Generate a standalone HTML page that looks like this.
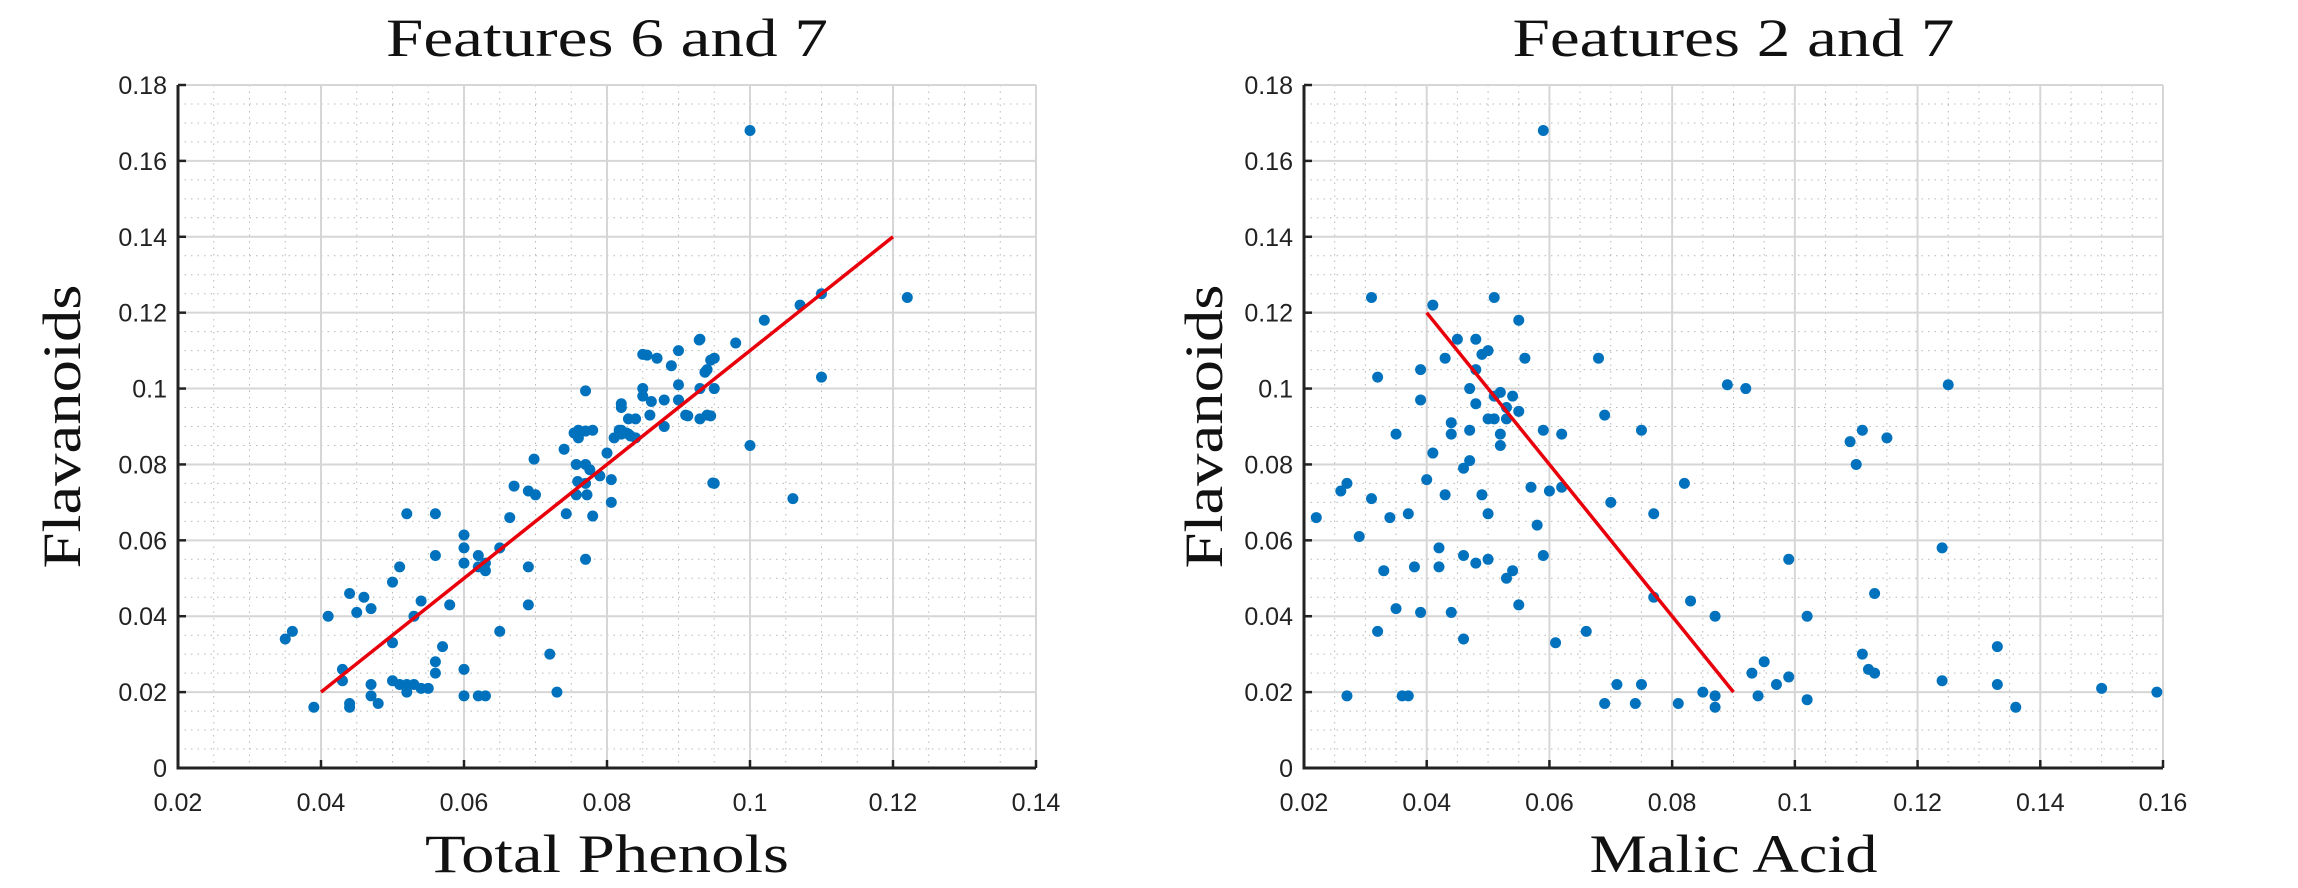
<!DOCTYPE html>
<html><head><meta charset="utf-8"><style>
html,body{margin:0;padding:0;background:#fff;}
svg{display:block;}
</style></head><body>
<svg id="fig" width="2298" height="888" viewBox="0 0 2298 888" xmlns="http://www.w3.org/2000/svg">
<rect width="2298" height="888" fill="#fff"/>
<g id="p1"></g>
<g id="p2"></g>
</svg>
<script>
const yTicks=[0,0.02,0.04,0.06,0.08,0.1,0.12,0.14,0.16,0.18];
const yTickLabels=["0","0.02","0.04","0.06","0.08","0.1","0.12","0.14","0.16","0.18"];
const x1Ticks=[0.02,0.04,0.06,0.08,0.1,0.12,0.14];
const x1TickLabels=["0.02","0.04","0.06","0.08","0.1","0.12","0.14"];
const x2Ticks=[0.02,0.04,0.06,0.08,0.1,0.12,0.14,0.16];
const x2TickLabels=["0.02","0.04","0.06","0.08","0.1","0.12","0.14","0.16"];
const phenolsX=[0.1,0.122,0.110,0.107,0.102,0.110,0.1,0.106,0.095,0.098,0.093,0.095,0.094,0.090,0.089,0.085,0.087,0.093,0.095,0.090,0.090,0.088,0.085,0.085,0.093,0.094,0.088,0.091,0.086,0.082,0.082,0.083,0.084,0.082,0.083,0.082,0.084,0.081,0.077,0.078,0.076,0.077,0.076,0.074,0.0757,0.077,0.0776,0.079,0.080,0.0806,0.0806,0.0759,0.077,0.0757,0.0772,0.0743,0.078,0.0698,0.067,0.069,0.070,0.0664,0.052,0.056,0.060,0.0856,0.0862,0.0929,0.0945,0.0937,0.0913,0.0945,0.0948,0.0754,0.0817,0.0827,0.0833,
0.035,0.036,0.039,0.041,0.043,0.043,0.044,0.044,0.044,0.045,0.046,0.047,0.047,0.047,0.048,0.050,0.050,0.050,0.051,0.051,0.052,0.052,0.053,0.054,0.054,0.053,0.055,0.056,0.056,0.056,0.057,0.058,0.060,0.060,0.060,0.060,0.062,0.062,0.062,0.063,0.063,0.063,0.065,0.065,0.069,0.069,0.072,0.073,0.077];
const flav1Y=[0.168,0.124,0.125,0.122,0.118,0.103,0.085,0.071,0.075,0.112,0.113,0.108,0.105,0.110,0.106,0.109,0.108,0.100,0.100,0.101,0.097,0.097,0.100,0.098,0.092,0.093,0.090,0.093,0.093,0.096,0.095,0.092,0.092,0.089,0.088,0.088,0.087,0.087,0.0994,0.089,0.089,0.0888,0.087,0.084,0.080,0.080,0.0786,0.077,0.083,0.070,0.076,0.0755,0.075,0.072,0.072,0.067,0.0664,0.0814,0.0743,0.073,0.072,0.066,0.067,0.067,0.0614,0.1088,0.0966,0.1128,0.1075,0.1043,0.0928,0.0928,0.0751,0.0883,0.089,0.0883,0.0875,
0.034,0.036,0.016,0.040,0.026,0.023,0.016,0.017,0.046,0.041,0.045,0.042,0.022,0.019,0.017,0.033,0.023,0.049,0.053,0.022,0.020,0.022,0.022,0.021,0.044,0.040,0.021,0.056,0.025,0.028,0.032,0.043,0.019,0.026,0.058,0.054,0.053,0.056,0.019,0.019,0.054,0.052,0.036,0.058,0.053,0.043,0.030,0.020,0.055];
const malicX=[0.059,0.031,0.041,0.051,0.055,0.022,0.026,0.027,0.027,0.029,0.031,0.032,0.032,0.033,0.034,0.035,0.035,0.036,0.037,0.037,0.038,0.039,0.039,0.039,0.040,0.041,0.042,0.042,0.043,0.043,0.044,0.044,0.044,0.045,0.046,0.046,0.046,0.047,0.047,0.047,0.048,0.048,0.048,0.048,0.049,0.049,0.050,0.050,0.050,0.050,0.051,0.051,0.052,0.052,0.052,0.053,0.053,0.053,0.054,0.054,0.055,0.055,0.056,0.057,0.058,0.059,0.059,0.060,0.061,0.062,0.062,0.066,0.068,0.069,0.069,0.070,0.071,0.074,0.075,0.075,0.077,0.077,0.081,0.082,0.083,0.085,0.087,0.087,0.087,0.089,0.092,0.093,0.094,0.095,0.097,0.099,0.099,0.102,0.102,0.109,0.110,0.111,0.111,0.112,0.113,0.113,0.115,0.124,0.124,0.125,0.133,0.133,0.136,0.150,0.159];
const flav2Y=[0.168,0.124,0.122,0.124,0.118,0.066,0.073,0.075,0.019,0.061,0.071,0.103,0.036,0.052,0.066,0.042,0.088,0.019,0.019,0.067,0.053,0.097,0.105,0.041,0.076,0.083,0.058,0.053,0.108,0.072,0.041,0.088,0.091,0.113,0.079,0.034,0.056,0.081,0.089,0.100,0.096,0.054,0.105,0.113,0.109,0.072,0.110,0.092,0.067,0.055,0.098,0.092,0.099,0.088,0.085,0.095,0.050,0.092,0.052,0.098,0.094,0.043,0.108,0.074,0.064,0.056,0.089,0.073,0.033,0.074,0.088,0.036,0.108,0.093,0.017,0.070,0.022,0.017,0.022,0.089,0.045,0.067,0.017,0.075,0.044,0.020,0.040,0.019,0.016,0.101,0.100,0.025,0.019,0.028,0.022,0.055,0.024,0.018,0.040,0.086,0.080,0.030,0.089,0.026,0.025,0.046,0.087,0.023,0.058,0.101,0.032,0.022,0.016,0.021,0.020];
const fit1X=[0.04,0.12], fit1Y=[0.02,0.14];
const fit2X=[0.04,0.09], fit2Y=[0.12,0.02];

const NS="http://www.w3.org/2000/svg";
function mk(parent,tag,attrs){const e=document.createElementNS(NS,tag);for(const k in attrs)e.setAttribute(k,attrs[k]);parent.appendChild(e);return e;}

function drawPlot(g,L,R,xMin,xMax,xT,xTL,xs,ys,fx,fy,title,titleW,xlab,xlabW,ylabX){
  const T=85,B=768,yMax=0.18;
  const sx=v=>L+(v-xMin)/(xMax-xMin)*(R-L);
  const sy=v=>B-v/yMax*(B-T);
  // minor grid
  for(let v=0;v<=yMax+1e-9;v+=0.005){const y=sy(v);
    const l=mk(g,'line',{x1:L,x2:R,y1:y,y2:y,stroke:'#b8b8b8','stroke-width':1,'stroke-dasharray':'1.5,5'});
    
    }
  for(let v=xMin;v<=xMax+1e-9;v+=0.005){const x=sx(v);
    const l=mk(g,'line',{x1:x,x2:x,y1:T,y2:B,stroke:'#b8b8b8','stroke-width':1,'stroke-dasharray':'1.5,5'});
    
    }
  // major grid
  yTicks.forEach((v,i)=>{const y=sy(v);
    const l=mk(g,'line',{x1:L,x2:R,y1:y,y2:y,stroke:'#d6d6d6','stroke-width':2});
    
    
    const tk=mk(g,'line',{x1:L,x2:L+8,y1:y,y2:y,stroke:'#222','stroke-width':2.5});
    
    
    const t=mk(g,'text',{x:L-11,y:y+9,'text-anchor':'end','font-family':'Liberation Sans, sans-serif','font-size':25,fill:'#222'});
    t.textContent=yTickLabels[i];
    
    });
  xT.forEach((v,i)=>{const x=sx(v);
    const l=mk(g,'line',{x1:x,x2:x,y1:T,y2:B,stroke:'#d6d6d6','stroke-width':2});
    
    
    const tk=mk(g,'line',{x1:x,x2:x,y1:B,y2:B-8,stroke:'#222','stroke-width':2.5});
    
    
    const t=mk(g,'text',{x:x,y:B+43,'text-anchor':'middle','font-family':'Liberation Sans, sans-serif','font-size':25,fill:'#222'});
    t.textContent=xTL[i];
    
    });
  // axes
  const ax=mk(g,'path',{d:`M${L},${T}V${B}H${R}`,fill:'none',stroke:'#222','stroke-width':3});
  
  
  // points
  xs.forEach((v,i)=>{
    const c=mk(g,'circle',{cx:sx(v),cy:sy(ys[i]),r:5.5,fill:'#0072BD'});
    
    });
  const ln=mk(g,'line',{x1:sx(fx[0]),y1:sy(fy[0]),x2:sx(fx[1]),y2:sy(fy[1]),stroke:'#e8000b','stroke-width':3.5});
  
  
  const cx=(L+R)/2;
  const tt=mk(g,'text',{x:cx,y:56,'text-anchor':'middle','font-family':'Liberation Serif, serif','font-size':54,fill:'#111',textLength:titleW,lengthAdjust:'spacingAndGlyphs'});
  tt.textContent=title;
  
  
  const xl=mk(g,'text',{x:cx,y:872,'text-anchor':'middle','font-family':'Liberation Serif, serif','font-size':54,fill:'#111',textLength:xlabW,lengthAdjust:'spacingAndGlyphs'});
  xl.textContent=xlab;
  
  
  const yl=mk(g,'text',{x:0,y:0,'text-anchor':'middle','font-family':'Liberation Serif, serif','font-size':54,fill:'#111',textLength:284,lengthAdjust:'spacingAndGlyphs',transform:`translate(${ylabX},${(T+B)/2}) rotate(-90)`});
  yl.textContent='Flavanoids';
  
  
}
drawPlot(document.getElementById('p1'),178,1036,0.02,0.14,x1Ticks,x1TickLabels,phenolsX,flav1Y,fit1X,fit1Y,'Features 6 and 7',442,'Total Phenols',364,80);
drawPlot(document.getElementById('p2'),1304,2163,0.02,0.16,x2Ticks,x2TickLabels,malicX,flav2Y,fit2X,fit2Y,'Features 2 and 7',442,'Malic Acid',288,1222);
</script>
</body></html>
